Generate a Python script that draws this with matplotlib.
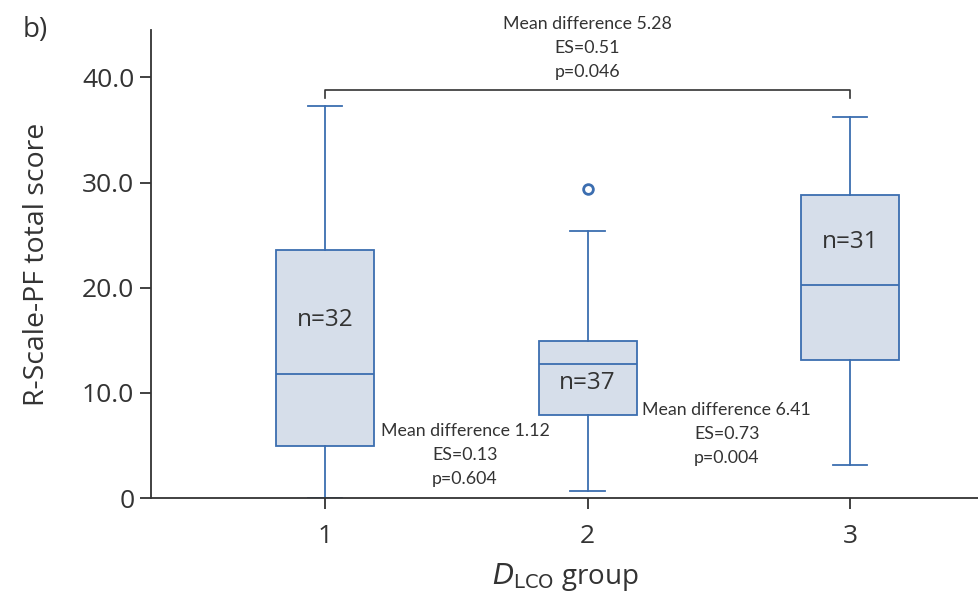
import matplotlib.pyplot as plt

# group summaries: whisker low, Q1, median, Q3, whisker high
groups = [1, 2, 3]
whislo = [0.0, 0.7, 3.1]
q1 = [4.9, 7.9, 13.1]
med = [11.8, 12.7, 20.3]
q3 = [23.6, 14.9, 28.8]
whishi = [37.3, 25.4, 36.2]
fliers = [[], [29.4], []]
n_labels = ['n=32', 'n=37', 'n=31']
n_label_y = [16.9, 10.9, 24.3]

# pairwise comparison annotations
cmp_text = [
    'Mean difference 1.12\nES=0.13\np=0.604',
    'Mean difference 6.41\nES=0.73\np=0.004',
    'Mean difference 5.28\nES=0.51\np=0.046',
]
cmp_x = [1.533, 2.53, 2.0]
cmp_y = [4.1, 6.1, 42.8]
bracket_y = 38.8

edge = '#3c6eb0'
fill = '#d6deea'
ink = '#333333'

plt.rcParams['font.family'] = ['Open Sans', 'DejaVu Sans']

fig = plt.figure(figsize=(9.79, 6.03), dpi=100)
ax = fig.add_axes([0.1542, 0.1741, 0.8458, 0.7761])

stats = []
for i in range(len(groups)):
    stats.append(dict(whislo=whislo[i], q1=q1[i], med=med[i], q3=q3[i],
                      whishi=whishi[i], fliers=fliers[i]))

ax.bxp(stats, positions=groups, widths=0.373, patch_artist=True,
       showfliers=True, capwidths=0.13,
       boxprops=dict(facecolor=fill, edgecolor=edge, linewidth=1.3),
       medianprops=dict(color=edge, linewidth=1.3),
       whiskerprops=dict(color=edge, linewidth=1.3),
       capprops=dict(color=edge, linewidth=1.3),
       flierprops=dict(marker='o', markerfacecolor='white',
                       markeredgecolor=edge, markersize=7, markeredgewidth=2))

for g, lab, y in zip(groups, n_labels, n_label_y):
    ax.text(g, y, lab, ha='center', va='center', fontsize=17.5, color=ink)

for t, x, y in zip(cmp_text, cmp_x, cmp_y):
    ax.text(x, y, t, ha='center', va='center', fontsize=12.8, color=ink,
            family=['Lato', 'DejaVu Sans'], linespacing=1.6)

# bracket between group 1 and group 3
ax.plot([groups[0], groups[0], groups[2], groups[2]],
        [bracket_y - 0.8, bracket_y, bracket_y, bracket_y - 0.8],
        color=ink, linewidth=1.2, clip_on=False)

ax.set_xlim(0.337, 3.491)
ax.set_ylim(0, 44.5)
ax.set_xticks(groups)
ax.set_xticklabels([str(g) for g in groups])
ax.set_yticks([0, 10, 20, 30, 40])
ax.set_yticklabels(['0', '10.0', '20.0', '30.0', '40.0'])

for side in ['top', 'right']:
    ax.spines[side].set_visible(False)
for side in ['left', 'bottom']:
    ax.spines[side].set_color(ink)
    ax.spines[side].set_linewidth(1.3)
ax.tick_params(axis='both', length=8, width=1.3, color=ink,
               labelsize=19, labelcolor=ink, pad=4)
ax.tick_params(axis='x', pad=11)

ax.set_ylabel('R-Scale-PF total score', fontsize=20.5, color=ink, labelpad=22)
ax.set_xlabel(r'$\mathit{D}_{\mathrm{LCO}}$ group', fontsize=20, color=ink,
              labelpad=8)
fig.text(0.023, 0.95, 'b)', fontsize=20, color=ink, va='center')

fig.savefig('out.png', dpi=100)
